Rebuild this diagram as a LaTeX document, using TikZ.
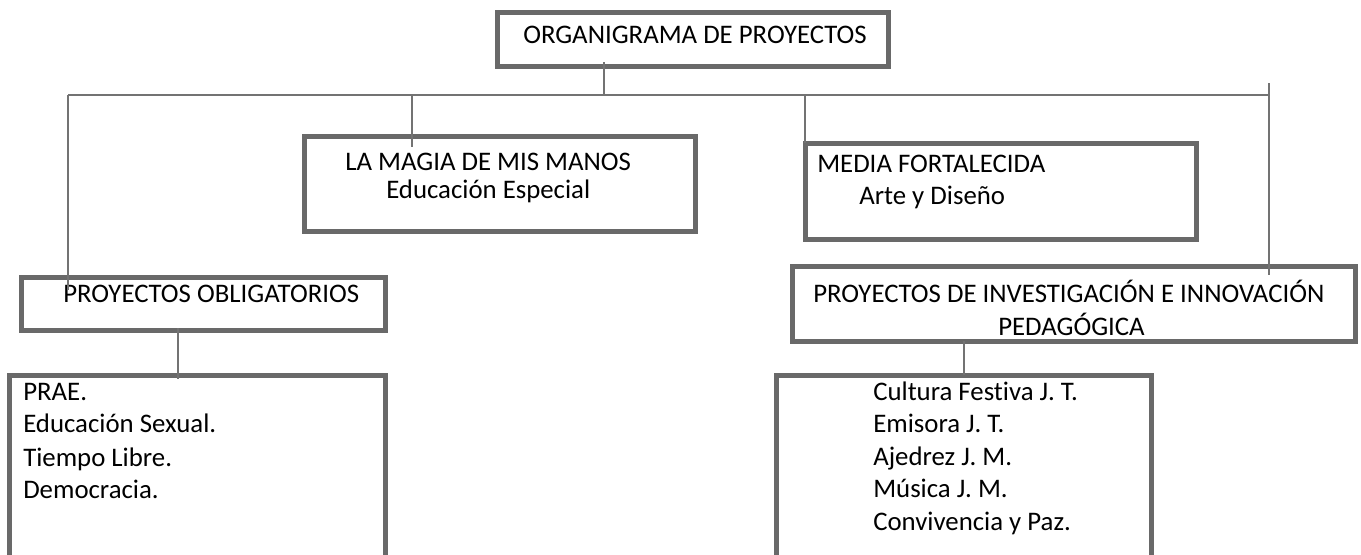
\documentclass[tikz,border=0pt]{standalone}
\usepackage{fontspec}
\setmainfont{Carlito}[Ligatures=NoCommon]
\usetikzlibrary{calc,fit}

\definecolor{rahmen}{RGB}{105,105,105}
\definecolor{linie}{RGB}{115,115,115}
\tikzset{
  kasten/.style={draw=rahmen, line width=3.75pt, inner sep=0pt, outer sep=0pt},
  verbinder/.style={draw=linie, line width=1.5pt},
  zeile/.style={anchor=base west, inner sep=0pt, font=\fontsize{20.1}{24}\selectfont}
}

\begin{document}
\begin{tikzpicture}[x=0.75pt,y=-0.75pt] % 1 einheit = 1 pixel
\useasboundingbox (0,0) rectangle (1361,554);
\clip (0,0) rectangle (1361,554);

%KASTEN NR. 0 (oben)
\node [kasten, fit={(497,12) (888,66)}] (titulo) {};
\node [zeile] (titulotxt) at (523,43) {ORGANIGRAMA DE PROYECTOS};




%KASTEN NR. 1 (mitte links)
\node [kasten, fit={(304,136) (695,231)}] (magia) {};
\node [zeile] (magiatxt) at (345,170) {LA MAGIA DE MIS MANOS};
\node [zeile] (magiasub) at (386,198) {Educación Especial};

%KASTEN NR. 2 (mitte rechts)
\node [kasten, fit={(805,143) (1196,239)}] (media) {};
\node [zeile] (mediatxt) at (817,172) {MEDIA FORTALECIDA};
\node [zeile] (mediasub) at (859,204) {Arte y Diseño};




%KASTEN NR. 3 (links)
\node [kasten, fit={(21,277) (385,330)}] (oblig) {};
\node [zeile] (obligtxt) at (63,302) {PROYECTOS OBLIGATORIOS};

%KASTEN NR. 4 (rechts)
\node [kasten, fit={(792,266) (1355,341)}] (invest) {};
\node [zeile] (investtxt) at (813,302) {PROYECTOS DE INVESTIGACIÓN E INNOVACIÓN};
\node [zeile] (investsub) at (998,335) {PEDAGÓGICA};




%KASTEN NR. 5 (unten links)
\node [kasten, fit={(9,375) (385,580)}] (listaA) {};
\node [zeile] (listaA1) at (23,400) {PRAE.};
\node [zeile] (listaA2) at (23,432) {Educación Sexual.};
\node [zeile] (listaA3) at (23,466) {Tiempo Libre.};
\node [zeile] (listaA4) at (23,498) {Democracia.};

%KASTEN NR. 6 (unten rechts)
\node [kasten, fit={(776,375) (1151,580)}] (listaB) {};
\node [zeile] (listaB1) at (873,400) {Cultura Festiva J. T.};
\node [zeile] (listaB2) at (873,432) {Emisora J. T.};
\node [zeile] (listaB3) at (873,465) {Ajedrez J. M.};
\node [zeile] (listaB4) at (873,497) {Música J. M.};
\node [zeile] (listaB5) at (873,530) {Convivencia y Paz.};




%LINIEN
\coordinate (busL) at (68,95);
\coordinate (busR) at (1269,95);
\coordinate (titulofuss) at (604,62);
\coordinate (magiakopf) at (412,147);
\coordinate (obligkopf) at (68,290);
\coordinate (rechtsoben) at (1269,83);
\coordinate (investkopf) at (1269,275);
\coordinate (obligfuss) at (178,328);
\coordinate (listaAkopf) at (178,379);

\draw [verbinder] (busL) -- (busR);
\draw [verbinder] (titulofuss) -- (titulofuss |- busL);
\draw [verbinder] (magiakopf |- busL) -- (magiakopf);
\draw [verbinder] (media.north west |- busL) -- (media.north west);
\draw [verbinder] (busL) -- (obligkopf);
\draw [verbinder] (rechtsoben) -- (investkopf);
\draw [verbinder] (obligfuss) -- (listaAkopf);
\draw [verbinder] (invest.south -| listaB.north) -- (listaB.north);

\end{tikzpicture}
\end{document}
